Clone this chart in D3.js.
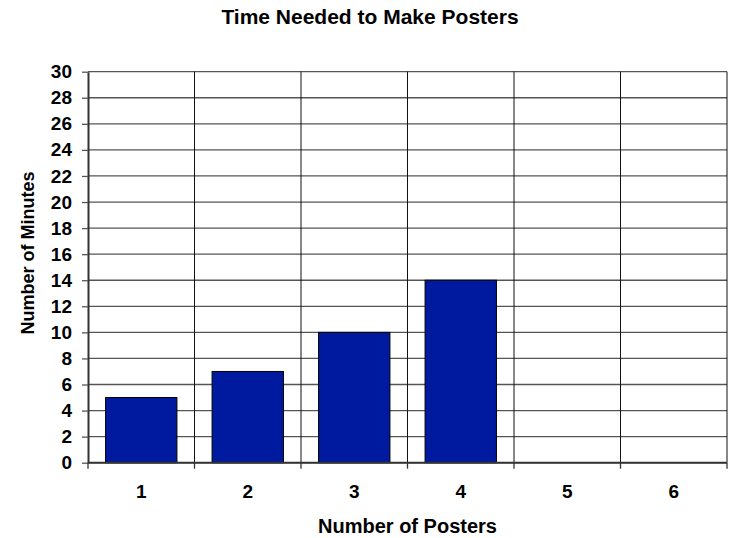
<!DOCTYPE html>
<html>
<head>
<meta charset="utf-8">
<script src="https://cdn.jsdelivr.net/npm/d3@7"></script>
<style>
  html, body { margin: 0; padding: 0; background: #fff; }
  svg { display: block; font-family: Arial, "Liberation Sans", Helvetica, sans-serif; }
</style>
</head>
<body>
<svg id="chart" width="729" height="538"></svg>
<script>
// Chart data
const categories = ["1", "2", "3", "4", "5", "6"];
const minutes = [5, 7, 10, 14, null, null];
const yTickValues = [0, 2, 4, 6, 8, 10, 12, 14, 16, 18, 20, 22, 24, 26, 28, 30];

const chartTitle = "Time Needed to Make Posters";
const xTitle = "Number of Posters";
const yTitle = "Number of Minutes";

const svg = d3.select("#chart");
const plot = { left: 88, right: 727, top: 71.7, bottom: 462.7 };

const x = d3.scaleBand().domain(categories).range([plot.left, plot.right]).padding(0);
const y = d3.scaleLinear().domain([0, 30]).range([plot.bottom, plot.top]);

// horizontal gridlines
svg.append("g")
  .selectAll("line")
  .data(yTickValues)
  .join("line")
  .attr("x1", plot.left).attr("x2", plot.right)
  .attr("y1", d => y(d)).attr("y2", d => y(d))
  .attr("stroke", "#555").attr("stroke-width", 1.3);

// vertical category separators
const bounds = categories.map(c => x(c)).concat([plot.right]);
svg.append("g")
  .selectAll("line")
  .data(bounds.slice(1))
  .join("line")
  .attr("x1", d => d).attr("x2", d => d)
  .attr("y1", plot.top).attr("y2", plot.bottom)
  .attr("stroke", "#111").attr("stroke-width", 1);

// bars
const barFrac = 0.67;
const rows = categories.map((c, i) => ({ c, v: minutes[i] })).filter(d => d.v != null);
svg.append("g")
  .selectAll("rect")
  .data(rows)
  .join("rect")
  .attr("x", d => x(d.c) + x.bandwidth() * (1 - barFrac) / 2)
  .attr("width", x.bandwidth() * barFrac)
  .attr("y", d => y(d.v))
  .attr("height", d => y(0) - y(d.v))
  .attr("fill", "#001A9F")
  .attr("stroke", "#000")
  .attr("stroke-width", 1);

// y axis
const yAxis = svg.append("g")
  .attr("transform", `translate(${plot.left},0)`)
  .call(d3.axisLeft(y).tickValues(yTickValues).tickSize(6).tickPadding(10).tickSizeOuter(0));
yAxis.select(".domain").attr("stroke", "#333").attr("stroke-width", 2);
yAxis.selectAll(".tick line").attr("stroke", "#555").attr("stroke-width", 1.3);
yAxis.selectAll(".tick text")
  .attr("fill", "#000")
  .style("font-size", "19px").style("font-weight", "bold")
  .style("font-family", "Arial, 'Liberation Sans', sans-serif");

// x axis baseline and boundary ticks
svg.append("line")
  .attr("x1", plot.left).attr("x2", plot.right)
  .attr("y1", plot.bottom).attr("y2", plot.bottom)
  .attr("stroke", "#333").attr("stroke-width", 2);
svg.append("g")
  .selectAll("line")
  .data(bounds)
  .join("line")
  .attr("x1", d => d).attr("x2", d => d)
  .attr("y1", plot.bottom).attr("y2", plot.bottom + 6)
  .attr("stroke", "#333").attr("stroke-width", 1.3);

// x category labels
svg.append("g")
  .selectAll("text")
  .data(categories)
  .join("text")
  .attr("x", d => x(d) + x.bandwidth() / 2)
  .attr("y", 498)
  .attr("text-anchor", "middle")
  .style("font-size", "19px").style("font-weight", "bold")
  .text(d => d);

// titles
svg.append("text")
  .attr("x", 370).attr("y", 23.5)
  .attr("text-anchor", "middle")
  .style("font-size", "21px").style("font-weight", "bold")
  .text(chartTitle);

svg.append("text")
  .attr("x", 407.5).attr("y", 533)
  .attr("text-anchor", "middle")
  .style("font-size", "20px").style("font-weight", "bold")
  .text(xTitle);

svg.append("text")
  .attr("transform", "translate(34,253) rotate(-90)")
  .attr("text-anchor", "middle")
  .style("font-size", "18px").style("font-weight", "bold")
  .text(yTitle);
</script>
</body>
</html>
